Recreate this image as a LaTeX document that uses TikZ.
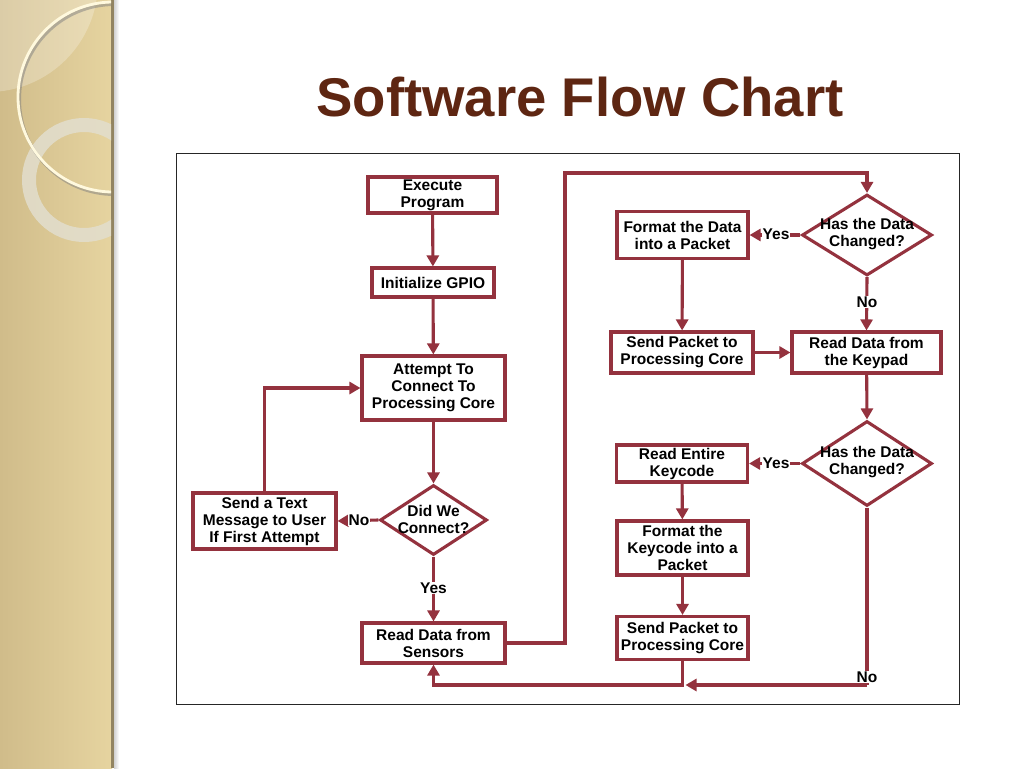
\documentclass[tikz,border=0pt]{standalone}
\usepackage{fontspec}
\setmainfont{Liberation Sans}
\usetikzlibrary{arrows.meta,shapes.geometric}
\definecolor{fc}{RGB}{148,50,62}
\definecolor{titlec}{RGB}{94,38,18}
\definecolor{barl}{RGB}{208,188,138}
\definecolor{barr}{RGB}{230,212,160}
\definecolor{ringc}{RGB}{255,249,222}
\definecolor{thickring}{RGB}{226,222,206}
\tikzset{
  fcline/.style={draw=fc, line width=3.1pt},
  fcarrow/.style={fcline, -{Triangle[length=11pt,width=12pt]}},
  stepbox/.style={draw=fc, line width=3.1pt, fill=white, align=center, inner sep=0pt,
     font=\fontsize{15.5}{17}\selectfont\bfseries, text=black},
  decbox/.style={diamond, draw=fc, line width=3.1pt, fill=white, inner sep=0pt},
  dtext/.style={align=center, inner sep=0pt, font=\fontsize{15.5}{17}\selectfont\bfseries, text=black},
  lbl/.style={fill=white, inner sep=0.6pt, font=\fontsize{15.5}{17}\selectfont\bfseries, text=black},
}
\begin{document}
\begin{tikzpicture}[x=1pt,y=-1pt]
\useasboundingbox (0,0) rectangle (1024,768);
\fill[white] (0,0) rectangle (1024,768);
% left decorative bar
\shade[left color=barl, right color=barr] (0,0) rectangle (112,768);
\fill[black!30!barl] (111,0) rectangle (114,768);
\shade[left color=black!18, right color=white] (114,0) rectangle (119,768);
\begin{scope}
  \clip (0,0) rectangle (111,768);
  \fill[white, opacity=0.25] (-12,-18) circle (110);
  \draw[thickring, line width=14pt, opacity=0.85] (84,180) circle (55);
  \draw[black!50, line width=3pt, opacity=0.5] (114.5,99.5) circle (95);
  \draw[ringc, line width=2.8pt] (113,97) circle (95);
\end{scope}
% title
\node[anchor=base, font=\fontsize{54.5}{60}\selectfont\bfseries, text=titlec] (title) at (580,116) {Software Flow Chart};
% frame
\draw[black!85, line width=1pt, fill=white] (176,153) rectangle (959,704);
% left column
\node[stepbox, minimum width=129, minimum height=36] (exec) at (432.5,195) {Execute\\Program};
\node[stepbox, minimum width=122, minimum height=29] (gpio) at (433,282.5) {Initialize GPIO};
\node[stepbox, minimum width=143, minimum height=64] (att) at (433.5,388) {Attempt To\\Connect To\\Processing Core};
\node[decbox, minimum width=107, minimum height=70] (d0) at (433.5,520) {};
\node[dtext] (d0t) at (433.5,519) {Did We\\Connect?};
\node[stepbox, minimum width=143, minimum height=56] (txt) at (264.5,521) {Send a Text\\Message to User\\If First Attempt};
\node[stepbox, minimum width=143, minimum height=40] (sens) at (433.5,643) {Read Data from\\Sensors};
% right column
\node[decbox, minimum width=130, minimum height=81] (d1) at (867,235) {};
\node[dtext] (d1t) at (867,234) {Has the Data\\Changed?};
\node[stepbox, minimum width=131, minimum height=47] (fmt1) at (682.5,235) {Format the Data\\into a Packet};
\node[stepbox, minimum width=142, minimum height=41] (send1) at (682,352.5) {Send Packet to\\Processing Core};
\node[stepbox, minimum width=149, minimum height=41] (kp) at (866.5,352.5) {Read Data from\\the Keypad};
\node[decbox, minimum width=130, minimum height=85] (d2) at (867,463.5) {};
\node[dtext] (d2t) at (867,462.5) {Has the Data\\Changed?};
\node[stepbox, minimum width=131, minimum height=37] (rek) at (682,463.5) {Read Entire\\Keycode};
\node[stepbox, minimum width=131, minimum height=54] (fmt2) at (682.5,548) {Format the\\Keycode into a\\Packet};
\node[stepbox, minimum width=131, minimum height=43] (send2) at (682.5,638) {Send Packet to\\Processing Core};
% coordinates
\coordinate (tr) at (565,173);
\coordinate (j) at (682.5,685);
\coordinate (br) at (867,685);
% connectors
\draw[fcarrow] (exec) -- (gpio);
\draw[fcarrow] (gpio) -- (att);
\draw[fcarrow] (att) -- (d0);
\draw[fcarrow] (d0) -- (sens);
\draw[fcarrow] (d0.west) -- (txt.east);
\draw[fcarrow] (txt.north) |- (att.west);
\draw[fcarrow] (sens.east) -| (tr) -| (d1.north);
\draw[fcarrow] (d1.west) -- (fmt1.east);
\draw[fcarrow] (fmt1) -- (send1);
\draw[fcarrow] (send1) -- (kp);
\draw[fcarrow] (d1.south) -- (kp.north);
\draw[fcarrow] (kp) -- (d2.north);
\draw[fcarrow] (d2.west) -- (rek.east);
\draw[fcarrow] (rek) -- (fmt2);
\draw[fcarrow] (fmt2) -- (send2);
\draw[fcline] (d2.south) -- (br);
\draw[fcarrow] (br) -- ([xshift=3pt]j);
\draw[fcarrow] (send2.south) -- (j) -| (sens.south);
% labels
\node[lbl] (noL) at (359,520) {No};
\node[lbl] (yesL) at (433.5,588) {Yes};
\node[lbl] (yes1) at (776,234) {Yes};
\node[lbl] (no1) at (867,302) {No};
\node[lbl] (yes2) at (776,463) {Yes};
\node[lbl] (no2) at (867,677) {No};
\end{tikzpicture}
\end{document}
